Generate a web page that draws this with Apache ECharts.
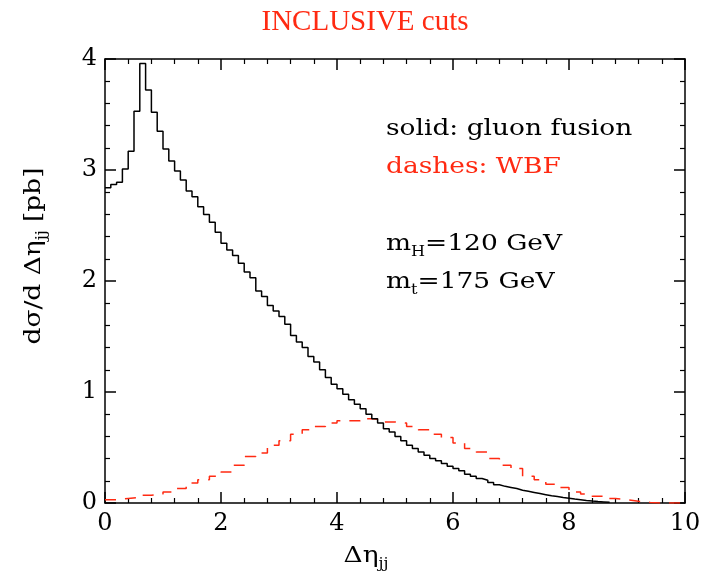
<!DOCTYPE html>
<html>
<head>
<meta charset="utf-8">
<script src="https://cdn.jsdelivr.net/npm/echarts@6/dist/echarts.min.js"></script>
<style>
  html, body { margin: 0; padding: 0; background: #fff; }
  #chart { width: 706px; height: 579px; }
</style>
</head>
<body>
<div id="chart"></div>
<script>
// Δη_jj distribution of the two leading jets, histogrammed.
// Gluon fusion: 0.1-wide bins starting at Δη = 0.
const ggfBinWidth = 0.1;
const ggfValues = [
  2.84, 2.87, 2.89, 3.01, 3.17, 3.53, 3.96, 3.72, 3.52, 3.35,
  3.19, 3.08, 2.99, 2.91, 2.81, 2.76, 2.67, 2.60, 2.53, 2.44,
  2.34, 2.28, 2.23, 2.16, 2.08, 2.03, 1.91, 1.86, 1.78, 1.73,
  1.68, 1.61, 1.51, 1.45, 1.40, 1.32, 1.27, 1.20, 1.13, 1.07,
  1.03, 0.98, 0.93, 0.89, 0.85, 0.80, 0.76, 0.72, 0.67, 0.64,
  0.60, 0.56, 0.52, 0.49, 0.46, 0.43, 0.40, 0.38, 0.355, 0.33,
  0.31, 0.29, 0.26, 0.24, 0.22, 0.205, 0.185, 0.165, 0.15, 0.14,
  0.13, 0.115, 0.105, 0.095, 0.085, 0.075, 0.065, 0.058, 0.05, 0.043,
  0.036, 0.03, 0.023, 0.017, 0.013, 0.01, 0.007
];

// Weak boson fusion: 0.2-wide bins starting at Δη = 0.
const wbfBinWidth = 0.2;
const wbfValues = [
  0.03, 0.04, 0.05, 0.07, 0.08, 0.10, 0.13, 0.18, 0.21, 0.24,
  0.28, 0.34, 0.42, 0.45, 0.52, 0.56, 0.62, 0.66, 0.69, 0.72,
  0.74, 0.74, 0.76, 0.75, 0.73, 0.72, 0.69, 0.66, 0.62, 0.59,
  0.54, 0.49, 0.46, 0.40, 0.34, 0.31, 0.24, 0.21, 0.17, 0.14,
  0.10, 0.08, 0.06, 0.04, 0.03, 0.015, 0.005, 0, 0, 0
];

const xTicks = { min: 0, max: 10, interval: 2 };
const yTicks = { min: 0, max: 4, interval: 1 };

const titleText = 'INCLUSIVE cuts';
const solidNote = 'solid: gluon fusion';
const dashNote = 'dashes: WBF';

const RED = '#ff2a12';
const SERIF = "'DejaVu Serif', 'Liberation Serif', serif";
const TEXT_SIZE = 23;
const STRETCH = 1.15;   // the annotation face is set wide

// Turn bin contents into step-line points: one point per left bin edge,
// plus a closing point on the right edge of the last bin.
function histPoints(values, width) {
  const pts = values.map((v, i) => [+(i * width).toFixed(3), v]);
  pts.push([+(values.length * width).toFixed(3), values[values.length - 1]]);
  return pts;
}

function frameAxis(base, extra) {
  return Object.assign({
    type: 'value',
    min: base.min, max: base.max, interval: base.interval,
    axisLine: { show: true, onZero: false, lineStyle: { color: '#000', width: 1.5 } },
    axisTick: { show: true, inside: true, length: 11, lineStyle: { color: '#000', width: 1.5 } },
    minorTick: { show: true, splitNumber: 5, length: 5, lineStyle: { color: '#000', width: 1.2 } },
    splitLine: { show: false },
    minorSplitLine: { show: false },
    axisLabel: { show: false }
  }, extra);
}

const labelStyle = { show: true, color: '#000', fontFamily: SERIF, fontSize: 24 };

const richSub = {
  b: { fontFamily: SERIF, fontSize: TEXT_SIZE, fill: '#000', lineHeight: 30 },
  s: { fontFamily: SERIF, fontSize: 14, fill: '#000', lineHeight: 30, verticalAlign: 'bottom' }
};

const chart = echarts.init(document.getElementById('chart'), null, { renderer: 'canvas' });

chart.setOption({
  animation: false,
  backgroundColor: '#fff',
  grid: { left: 105, right: 21, top: 59, bottom: 76, containLabel: false },
  xAxis: [
    frameAxis(xTicks, { position: 'bottom', axisLabel: Object.assign({ margin: 9 }, labelStyle) }),
    frameAxis(xTicks, { position: 'top' })
  ],
  yAxis: [
    frameAxis(yTicks, { position: 'left', axisLabel: Object.assign({ margin: 8 }, labelStyle) }),
    frameAxis(yTicks, { position: 'right' })
  ],
  series: [
    {
      name: 'gluon fusion',
      type: 'line',
      step: 'end',
      xAxisIndex: 0, yAxisIndex: 0,
      data: histPoints(ggfValues, ggfBinWidth),
      symbol: 'none',
      lineStyle: { color: '#000', width: 1.5 },
      z: 3
    },
    {
      name: 'WBF',
      type: 'line',
      step: 'end',
      xAxisIndex: 0, yAxisIndex: 0,
      data: histPoints(wbfValues, wbfBinWidth),
      symbol: 'none',
      lineStyle: { color: RED, width: 1.5, type: [11, 9] },
      z: 2
    }
  ],
  graphic: [
    {
      type: 'text', x: 365, y: 22,
      style: {
        text: titleText, fill: RED, font: "29px 'Liberation Serif', serif",
        align: 'center', verticalAlign: 'middle'
      }
    },
    {
      type: 'text', x: 386, y: 129, scaleX: STRETCH,
      style: { text: solidNote, fill: '#000', font: TEXT_SIZE + 'px ' + SERIF, verticalAlign: 'middle' }
    },
    {
      type: 'text', x: 386, y: 167, scaleX: STRETCH,
      style: { text: dashNote, fill: RED, font: TEXT_SIZE + 'px ' + SERIF, verticalAlign: 'middle' }
    },
    {
      type: 'text', x: 386, y: 244, scaleX: STRETCH,
      style: { text: '{b|m}{s|H}{b|=120 GeV}', verticalAlign: 'middle', rich: richSub }
    },
    {
      type: 'text', x: 386, y: 282, scaleX: STRETCH,
      style: { text: '{b|m}{s|t}{b|=175 GeV}', verticalAlign: 'middle', rich: richSub }
    },
    {
      type: 'text', x: 34, y: 256, rotation: Math.PI / 2, scaleX: STRETCH,
      style: {
        text: '{b|dσ/d Δη}{s|jj}{b| [pb]}',
        align: 'center', verticalAlign: 'middle', rich: richSub
      }
    },
    {
      type: 'text', x: 366, y: 556, scaleX: STRETCH,
      style: {
        text: '{b|Δη}{s|jj}',
        align: 'center', verticalAlign: 'middle', rich: richSub
      }
    }
  ]
});
</script>
</body>
</html>
